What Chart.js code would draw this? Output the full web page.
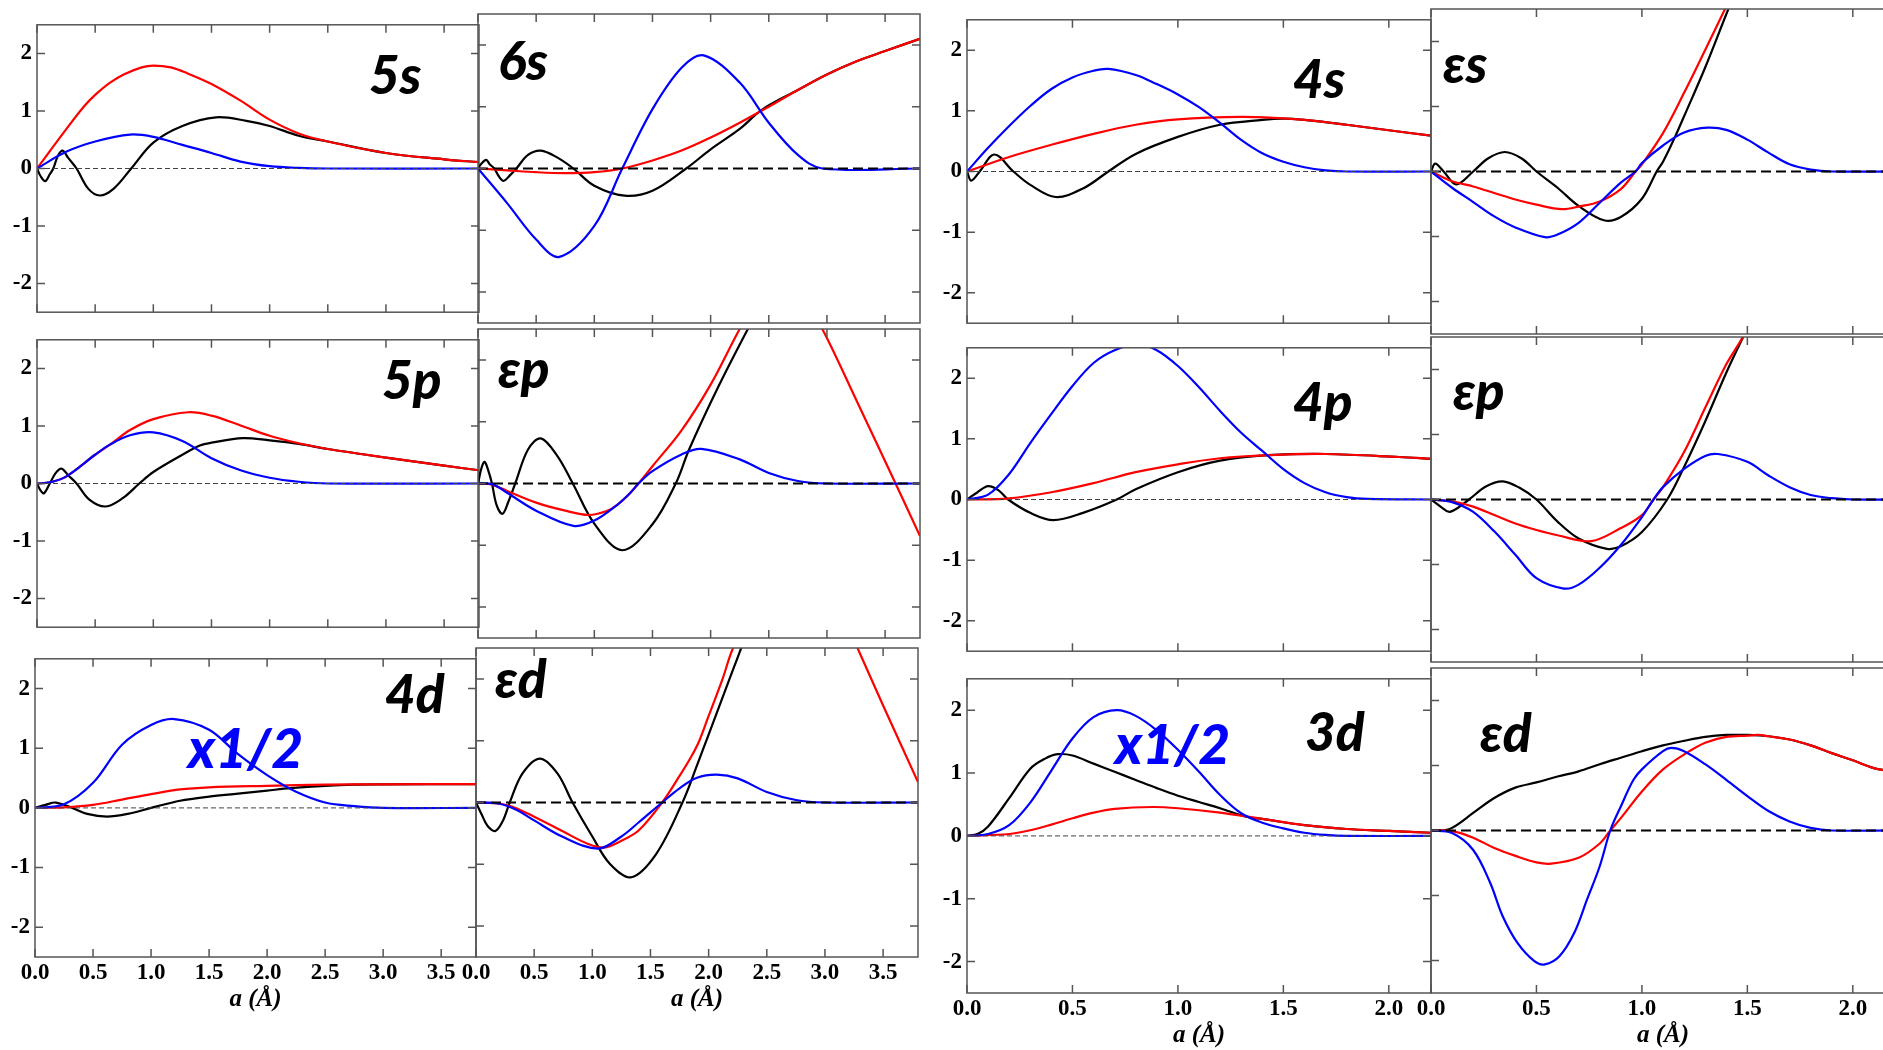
<!DOCTYPE html>
<html>
<head>
<meta charset="utf-8">
<script src="https://cdn.jsdelivr.net/npm/chart.js@4.4.1/dist/chart.umd.min.js"></script>
<style>
  html, body { margin: 0; padding: 0; background: #fff; overflow: hidden; width: 1883px; height: 1050px; }
  canvas { position: absolute; }
</style>
</head>
<body>
<script>
// ---- tick values ----
const yTickValues = [-2, -1, 0, 1, 2];
const xTickValuesWide = [0, 0.5, 1.0, 1.5, 2.0, 2.5, 3.0, 3.5];
const xTickValuesNarrow = [0, 0.5, 1.0, 1.5, 2.0];

// ---- 5s ----
const p5s_red_x = [0, 0.25, 0.4, 0.5, 0.625, 0.75, 0.9, 1.0, 1.15, 1.3, 1.5, 1.75, 2.0, 2.25, 2.5, 3.0, 3.5, 3.8];
const p5s_red_y = [0, 0.68, 1.07, 1.28, 1.49, 1.64, 1.76, 1.79, 1.76, 1.65, 1.47, 1.18, 0.85, 0.61, 0.47, 0.27, 0.16, 0.11];
const p5s_blue_x = [0, 0.25, 0.5, 0.8, 1.0, 1.25, 1.5, 1.75, 2.0, 2.25, 2.5, 3.8];
const p5s_blue_y = [0, 0.29, 0.47, 0.59, 0.55, 0.41, 0.27, 0.12, 0.04, 0.01, 0, 0];
const p5s_black_x = [0, 0.03, 0.07, 0.11, 0.14, 0.18, 0.22, 0.27, 0.34, 0.44, 0.54, 0.66, 0.81, 1.0, 1.25, 1.54, 1.8, 2.0, 2.25, 2.5, 3.0, 3.5, 3.8];
const p5s_black_y = [0, -0.13, -0.22, -0.1, 0, 0.22, 0.31, 0.18, 0, -0.35, -0.47, -0.35, 0, 0.45, 0.74, 0.89, 0.83, 0.74, 0.57, 0.47, 0.27, 0.16, 0.11];

// ---- 6s ----
const p6s_red_x = [0, 0.25, 0.5, 0.75, 1.0, 1.24, 1.5, 1.75, 2.0, 2.25, 2.5, 2.75, 3.0, 3.25, 3.5, 3.8];
const p6s_red_y = [0, -0.03, -0.06, -0.075, -0.06, 0, 0.13, 0.29, 0.5, 0.74, 1.0, 1.27, 1.52, 1.73, 1.9, 2.1];
const p6s_blue_x = [0, 0.25, 0.5, 0.7, 1.0, 1.24, 1.5, 1.75, 1.94, 2.25, 2.5, 2.75, 2.96, 3.8];
const p6s_blue_y = [0, -0.56, -1.15, -1.43, -0.93, 0, 0.96, 1.63, 1.83, 1.39, 0.74, 0.22, 0, 0];
const p6s_black_x = [0, 0.03, 0.07, 0.1, 0.14, 0.18, 0.22, 0.27, 0.33, 0.43, 0.54, 0.68, 0.82, 1.0, 1.26, 1.5, 1.79, 2.0, 2.25, 2.44, 2.75, 3.0, 3.25, 3.5, 3.8];
const p6s_black_y = [0, 0.08, 0.14, 0.07, 0, -0.13, -0.2, -0.12, 0, 0.22, 0.29, 0.18, 0, -0.28, -0.44, -0.36, 0, 0.31, 0.64, 0.95, 1.27, 1.52, 1.73, 1.9, 2.1];

// ---- 5p ----
const p5p_red_x = [0, 0.11, 0.25, 0.5, 0.63, 0.8, 1.0, 1.3, 1.5, 1.75, 2.0, 2.25, 2.5, 3.0, 3.5, 3.8];
const p5p_red_y = [0, 0.02, 0.12, 0.5, 0.68, 0.93, 1.12, 1.24, 1.18, 1.01, 0.83, 0.7, 0.6, 0.45, 0.31, 0.23];
const p5p_blue_x = [0, 0.11, 0.25, 0.5, 0.63, 0.8, 1.0, 1.25, 1.5, 1.75, 2.0, 2.25, 2.5, 3.8];
const p5p_blue_y = [0, 0.02, 0.12, 0.5, 0.68, 0.84, 0.89, 0.74, 0.44, 0.23, 0.1, 0.03, 0, 0];
const p5p_black_x = [0, 0.03, 0.06, 0.11, 0.16, 0.21, 0.27, 0.34, 0.45, 0.59, 0.74, 0.88, 1.0, 1.25, 1.4, 1.5, 1.77, 2.0, 2.25, 2.5, 3.0, 3.5, 3.8];
const p5p_black_y = [0, -0.12, -0.17, 0, 0.18, 0.26, 0.14, 0, -0.28, -0.4, -0.25, 0, 0.2, 0.5, 0.66, 0.71, 0.79, 0.75, 0.69, 0.6, 0.45, 0.31, 0.23];

// ---- εp (left group) ----
const pEp5_red_x = [0, 0.12, 0.25, 0.5, 0.75, 0.95, 1.1, 1.2, 1.3, 1.38, 1.5, 1.75, 2.0, 2.25, 2.4, 2.6, 2.8, 2.96, 3.25, 3.59, 3.8];
const pEp5_red_y = [0, -0.02, -0.12, -0.31, -0.44, -0.51, -0.45, -0.34, -0.17, 0, 0.28, 0.86, 1.6, 2.5, 2.96, 3.19, 2.98, 2.5, 1.36, 0, -0.85];
const pEp5_blue_x = [0, 0.12, 0.25, 0.5, 0.82, 1.0, 1.2, 1.3, 1.38, 1.5, 1.75, 1.92, 2.25, 2.5, 2.75, 3.0, 3.8];
const pEp5_blue_y = [0, -0.01, -0.15, -0.44, -0.685, -0.6, -0.34, -0.17, 0, 0.2, 0.47, 0.56, 0.39, 0.17, 0.04, 0, 0];
const pEp5_black_x = [0, 0.03, 0.057, 0.09, 0.12, 0.16, 0.21, 0.26, 0.32, 0.43, 0.54, 0.68, 0.815, 1.0, 1.24, 1.5, 1.7, 1.815, 2.07, 2.32, 2.45];
const pEp5_black_y = [0, 0.25, 0.35, 0.2, 0, -0.35, -0.49, -0.3, 0, 0.55, 0.73, 0.45, 0, -0.65, -1.08, -0.66, 0, 0.55, 1.58, 2.5, 2.95];

// ---- 4d ----
const p4d_red_x = [0, 0.25, 0.5, 0.75, 1.0, 1.25, 1.5, 2.0, 2.5, 3.0, 3.8];
const p4d_red_y = [0, 0.01, 0.05, 0.14, 0.23, 0.31, 0.345, 0.37, 0.39, 0.395, 0.4];
const p4d_blue_x = [0, 0.25, 0.5, 0.75, 1.0, 1.2, 1.5, 1.75, 2.0, 2.25, 2.5, 2.75, 3.0, 3.8];
const p4d_blue_y = [0, 0.06, 0.42, 1.06, 1.39, 1.49, 1.31, 0.9, 0.55, 0.27, 0.09, 0.03, 0, 0];
const p4d_black_x = [0, 0.09, 0.18, 0.32, 0.45, 0.62, 0.8, 1.0, 1.25, 1.5, 1.75, 2.0, 2.2, 2.5, 2.75, 3.0, 3.8];
const p4d_black_y = [0, 0.05, 0.09, 0, -0.1, -0.145, -0.1, 0, 0.12, 0.19, 0.24, 0.29, 0.33, 0.37, 0.39, 0.395, 0.4];

// ---- εd (left group) ----
const pEd4_red_x = [0, 0.15, 0.3, 0.5, 0.75, 0.95, 1.1, 1.25, 1.4, 1.6, 1.75, 1.85, 1.92, 2.0, 2.12, 2.21, 2.4, 2.6, 2.78, 2.95, 3.1, 3.28, 3.5, 3.8];
const pEd4_red_y = [0, -0.01, -0.06, -0.23, -0.47, -0.66, -0.73, -0.62, -0.45, 0, 0.43, 0.74, 1.0, 1.4, 2.0, 2.5, 3.2, 3.6, 3.73, 3.6, 3.25, 2.5, 1.57, 0.33];
const pEd4_blue_x = [0, 0.2, 0.35, 0.5, 0.75, 1.05, 1.25, 1.4, 1.6, 1.75, 1.9, 2.07, 2.25, 2.5, 2.75, 3.0, 3.8];
const pEd4_blue_y = [0, -0.02, -0.12, -0.29, -0.56, -0.745, -0.55, -0.32, 0, 0.23, 0.4, 0.45, 0.39, 0.17, 0.04, 0, 0];
const pEd4_black_x = [0, 0.05, 0.1, 0.166, 0.23, 0.29, 0.4, 0.55, 0.7, 0.83, 1.0, 1.15, 1.335, 1.55, 1.775, 1.9, 2.0, 2.1, 2.2, 2.3, 2.4];
const pEd4_black_y = [0, -0.2, -0.38, -0.46, -0.3, 0, 0.47, 0.71, 0.47, 0, -0.55, -0.99, -1.21, -0.83, 0, 0.6, 1.1, 1.6, 2.1, 2.6, 3.1];

// ---- 4s ----
const p4s_red_x = [0, 0.2, 0.4, 0.6, 0.8, 1.0, 1.3, 1.5, 1.6, 1.8, 2.0, 2.2];
const p4s_red_y = [0, 0.24, 0.44, 0.62, 0.77, 0.86, 0.9, 0.875, 0.85, 0.77, 0.68, 0.59];
const p4s_blue_x = [0, 0.1, 0.2, 0.3, 0.4, 0.5, 0.6, 0.67, 0.8, 0.9, 1.0, 1.1, 1.2, 1.3, 1.4, 1.5, 1.6, 1.7, 1.8, 2.2];
const p4s_blue_y = [0, 0.39, 0.75, 1.08, 1.36, 1.55, 1.66, 1.69, 1.59, 1.44, 1.27, 1.06, 0.8, 0.52, 0.3, 0.16, 0.07, 0.02, 0, 0];
const p4s_black_x = [0, 0.02, 0.06, 0.13, 0.22, 0.3, 0.42, 0.55, 0.67, 0.8, 1.0, 1.2, 1.4, 1.5, 1.6, 1.8, 2.0, 2.2];
const p4s_black_y = [0, -0.15, 0, 0.28, 0, -0.22, -0.42, -0.28, 0, 0.29, 0.57, 0.77, 0.85, 0.87, 0.85, 0.77, 0.68, 0.59];

// ---- εs ----
const pEs_red_x = [0, 0.1, 0.2, 0.3, 0.4, 0.5, 0.62, 0.7, 0.8, 0.9, 0.97, 1.0, 1.1, 1.2, 1.3, 1.4, 1.5];
const pEs_red_y = [0, -0.15, -0.23, -0.33, -0.43, -0.51, -0.58, -0.54, -0.46, -0.27, 0, 0.11, 0.59, 1.21, 1.87, 2.54, 3.2];
const pEs_blue_x = [0, 0.1, 0.2, 0.3, 0.4, 0.54, 0.6, 0.7, 0.8, 0.9, 0.97, 1.0, 1.1, 1.2, 1.31, 1.4, 1.5, 1.6, 1.7, 1.8, 1.9, 2.2];
const pEs_blue_y = [0, -0.25, -0.47, -0.69, -0.86, -1.01, -0.97, -0.79, -0.48, -0.17, 0, 0.13, 0.4, 0.6, 0.675, 0.64, 0.49, 0.29, 0.11, 0.03, 0, 0];
const pEs_black_x = [0, 0.02, 0.06, 0.12, 0.2, 0.27, 0.35, 0.43, 0.5, 0.6, 0.7, 0.82, 0.9, 1.0, 1.07, 1.1, 1.158, 1.2, 1.3, 1.41, 1.5];
const pEs_black_y = [0, 0.12, 0, -0.2, 0, 0.2, 0.3, 0.2, 0, -0.25, -0.53, -0.75, -0.7, -0.42, 0, 0.15, 0.54, 0.85, 1.6, 2.5, 3.2];

// ---- 4p ----
const p4p_red_x = [0, 0.2, 0.4, 0.6, 0.8, 1.0, 1.2, 1.43, 1.7, 2.05, 2.2];
const p4p_red_y = [0, 0.02, 0.12, 0.27, 0.45, 0.58, 0.68, 0.73, 0.75, 0.7, 0.67];
const p4p_blue_x = [0, 0.1, 0.2, 0.3, 0.4, 0.5, 0.6, 0.7, 0.81, 0.9, 1.0, 1.1, 1.2, 1.3, 1.4, 1.5, 1.6, 1.7, 1.8, 1.9, 2.2];
const p4p_blue_y = [0, 0.08, 0.42, 0.93, 1.41, 1.87, 2.25, 2.46, 2.56, 2.46, 2.2, 1.85, 1.46, 1.1, 0.8, 0.5, 0.27, 0.12, 0.04, 0.01, 0];
const p4p_black_x = [0, 0.05, 0.1, 0.15, 0.195, 0.3, 0.41, 0.55, 0.71, 0.8, 1.0, 1.2, 1.43, 1.7, 2.05, 2.2];
const p4p_black_y = [0, 0.12, 0.22, 0.15, 0, -0.22, -0.34, -0.22, 0, 0.17, 0.45, 0.64, 0.73, 0.75, 0.7, 0.67];

// ---- εp (right group) ----
const pEp4_red_x = [0, 0.1, 0.2, 0.3, 0.4, 0.5, 0.6, 0.76, 0.9, 1.0, 1.055, 1.1, 1.2, 1.3, 1.4, 1.48, 1.6];
const pEp4_red_y = [0, -0.03, -0.11, -0.24, -0.37, -0.47, -0.55, -0.64, -0.44, -0.24, 0, 0.19, 0.73, 1.41, 2.08, 2.51, 3.3];
const pEp4_blue_x = [0, 0.1, 0.2, 0.3, 0.4, 0.5, 0.63, 0.7, 0.8, 0.9, 1.0, 1.055, 1.1, 1.2, 1.3, 1.36, 1.5, 1.6, 1.7, 1.8, 1.9, 2.0, 2.2];
const pEp4_blue_y = [0, -0.04, -0.19, -0.49, -0.85, -1.21, -1.37, -1.31, -1.05, -0.7, -0.27, 0, 0.19, 0.47, 0.67, 0.7, 0.58, 0.37, 0.19, 0.07, 0.02, 0, 0];
const pEp4_black_x = [0, 0.05, 0.09, 0.18, 0.26, 0.34, 0.42, 0.5, 0.6, 0.7, 0.834, 0.9, 1.0, 1.12, 1.2, 1.3, 1.4, 1.48, 1.6];
const pEp4_black_y = [0, -0.12, -0.19, 0, 0.2, 0.28, 0.18, 0, -0.34, -0.6, -0.76, -0.72, -0.5, 0, 0.5, 1.2, 1.95, 2.5, 3.3];

// ---- 3d ----
const p3d_red_x = [0, 0.2, 0.3, 0.4, 0.5, 0.6, 0.7, 0.88, 1.0, 1.2, 1.4, 1.6, 1.8, 2.0, 2.2];
const p3d_red_y = [0, 0.03, 0.09, 0.18, 0.28, 0.37, 0.43, 0.46, 0.44, 0.37, 0.27, 0.17, 0.11, 0.08, 0.05];
const p3d_blue_x = [0, 0.1, 0.2, 0.3, 0.4, 0.5, 0.6, 0.71, 0.8, 0.9, 1.0, 1.1, 1.2, 1.3, 1.4, 1.5, 1.6, 1.7, 1.8, 2.2];
const p3d_blue_y = [0, 0.03, 0.17, 0.53, 1.04, 1.55, 1.89, 2.0, 1.91, 1.68, 1.37, 1.02, 0.65, 0.36, 0.21, 0.12, 0.05, 0.015, 0, 0];
const p3d_black_x = [0, 0.05, 0.1, 0.2, 0.3, 0.37, 0.43, 0.5, 0.6, 0.7, 0.8, 0.9, 1.0, 1.1, 1.2, 1.33, 1.4, 1.6, 1.8, 2.0, 2.2];
const p3d_black_y = [0, 0.03, 0.15, 0.6, 1.07, 1.23, 1.3, 1.28, 1.15, 1.02, 0.89, 0.76, 0.64, 0.54, 0.44, 0.3, 0.27, 0.17, 0.11, 0.08, 0.05];

// ---- εd (right group) ----
const pEd3_red_x = [0, 0.1, 0.2, 0.3, 0.4, 0.5, 0.57, 0.7, 0.8, 0.85, 0.9, 1.0, 1.1, 1.2, 1.3, 1.4, 1.5, 1.55, 1.6, 1.7, 1.8, 1.9, 2.0, 2.1, 2.2];
const pEd3_red_y = [0, -0.01, -0.11, -0.27, -0.39, -0.49, -0.51, -0.42, -0.2, 0, 0.19, 0.6, 0.94, 1.17, 1.35, 1.44, 1.46, 1.47, 1.45, 1.4, 1.31, 1.19, 1.08, 0.96, 0.9];
const pEd3_blue_x = [0, 0.1, 0.2, 0.28, 0.34, 0.41, 0.49, 0.54, 0.61, 0.68, 0.74, 0.8, 0.85, 0.9, 0.96, 1.0, 1.1, 1.14, 1.2, 1.3, 1.4, 1.5, 1.6, 1.7, 1.8, 1.9, 2.2];
const pEd3_blue_y = [0, -0.04, -0.3, -0.8, -1.32, -1.73, -2.01, -2.06, -1.93, -1.57, -1.06, -0.55, 0, 0.37, 0.78, 0.94, 1.22, 1.27, 1.22, 1.02, 0.78, 0.53, 0.3, 0.14, 0.04, 0, 0];
const pEd3_black_x = [0, 0.05, 0.1, 0.2, 0.3, 0.4, 0.5, 0.6, 0.7, 0.8, 0.9, 1.0, 1.1, 1.2, 1.3, 1.4, 1.5, 1.6, 1.7, 1.8, 1.9, 2.0, 2.1, 2.2];
const pEd3_black_y = [0, 0.0, 0.04, 0.27, 0.5, 0.66, 0.74, 0.83, 0.91, 1.02, 1.12, 1.22, 1.31, 1.38, 1.44, 1.47, 1.47, 1.45, 1.4, 1.31, 1.19, 1.08, 0.96, 0.9];

// layout of the twelve panels: plot box [left, top, width, height]
const LM = 60, RM = 8, TM = 8, BM_LAST = 72, BM = 8;
const panels = [
  { tag: '5s', box: [37, 14, 442, 309], xmax: 3.8, first: true,  last: false, cont: false, at: [332, 69], d: [p5s_red_x, p5s_red_y, p5s_blue_x, p5s_blue_y, p5s_black_x, p5s_black_y] },
  { tag: '6s', box: [478, 14, 442, 309], xmax: 3.8, first: false, last: false, cont: true, at: [20, 66], d: [p6s_red_x, p6s_red_y, p6s_blue_x, p6s_blue_y, p6s_black_x, p6s_black_y] },
  { tag: '5p', box: [37, 329, 442, 309], xmax: 3.8, first: true,  last: false, cont: false, at: [345, 59], d: [p5p_red_x, p5p_red_y, p5p_blue_x, p5p_blue_y, p5p_black_x, p5p_black_y] },
  { tag: 'εp', box: [478, 329, 442, 309], xmax: 3.8, first: false, last: false, cont: true, at: [20, 59], d: [pEp5_red_x, pEp5_red_y, pEp5_blue_x, pEp5_blue_y, pEp5_black_x, pEp5_black_y] },
  { tag: '4d', box: [35, 648, 441, 309], xmax: 3.8, first: true,  last: true, cont: false, at: [350, 54], half: [153, 109], d: [p4d_red_x, p4d_red_y, p4d_blue_x, p4d_blue_y, p4d_black_x, p4d_black_y] },
  { tag: 'εd', box: [476, 648, 442, 309], xmax: 3.8, first: false, last: true, cont: true, at: [19, 50], d: [pEd4_red_x, pEd4_red_y, pEd4_blue_x, pEd4_blue_y, pEd4_black_x, pEd4_black_y] },
  { tag: '4s', box: [967, 9, 464, 325], xmax: 2.2, first: true,  last: false, cont: false, at: [326, 78], d: [p4s_red_x, p4s_red_y, p4s_blue_x, p4s_blue_y, p4s_black_x, p4s_black_y] },
  { tag: 'εs', box: [1431, 9, 464, 325], xmax: 2.2, first: false, last: false, cont: true, at: [12, 74], d: [pEs_red_x, pEs_red_y, pEs_blue_x, pEs_blue_y, pEs_black_x, pEs_black_y] },
  { tag: '4p', box: [967, 337, 464, 325], xmax: 2.2, first: true,  last: false, cont: false, at: [326, 73], d: [p4p_red_x, p4p_red_y, p4p_blue_x, p4p_blue_y, p4p_black_x, p4p_black_y] },
  { tag: 'εp', box: [1431, 337, 464, 325], xmax: 2.2, first: false, last: false, cont: true, at: [22, 73], d: [pEp4_red_x, pEp4_red_y, pEp4_blue_x, pEp4_blue_y, pEp4_black_x, pEp4_black_y] },
  { tag: '3d', box: [967, 668, 464, 325], xmax: 2.2, first: true,  last: true, cont: false, at: [338, 72], half: [148, 85], d: [p3d_red_x, p3d_red_y, p3d_blue_x, p3d_blue_y, p3d_black_x, p3d_black_y] },
  { tag: 'εd', box: [1431, 668, 464, 325], xmax: 2.2, first: false, last: true, cont: true, at: [49, 84], d: [pEd3_red_x, pEd3_red_y, pEd3_blue_x, pEd3_blue_y, pEd3_black_x, pEd3_black_y] }
];

const pts = (xs, ys) => xs.map((x, i) => ({ x, y: ys[i] }));

// frame, inward ticks, dashed zero line and panel tags
const framePlugin = {
  id: 'frame',
  afterDatasetsDraw(chart, args, o) {
    const { ctx, chartArea: a, scales: { x, y } } = chart;
    ctx.save();
    const y0 = y.getPixelForValue(0);
    ctx.beginPath();
    ctx.setLineDash(o.cont ? [10, 5] : [5, 3]);
    ctx.strokeStyle = o.cont ? '#000' : '#444';
    ctx.lineWidth = o.cont ? 2 : 1;
    ctx.moveTo(a.left, y0);
    ctx.lineTo(a.right, y0);
    ctx.stroke();
    ctx.setLineDash([]);

    ctx.strokeStyle = '#555';
    ctx.lineWidth = 1.5;
    ctx.strokeRect(a.left, a.top, a.right - a.left, a.bottom - a.top);
    ctx.beginPath();
    x.ticks.forEach(t => {
      const p = x.getPixelForValue(t.value);
      ctx.moveTo(p, a.top); ctx.lineTo(p, a.top + 8);
      ctx.moveTo(p, a.bottom); ctx.lineTo(p, a.bottom - 8);
    });
    y.ticks.forEach(t => {
      const p = y.getPixelForValue(t.value);
      ctx.moveTo(a.left, p); ctx.lineTo(a.left + 8, p);
      ctx.moveTo(a.right, p); ctx.lineTo(a.right - 8, p);
    });
    ctx.stroke();

    ctx.textBaseline = 'alphabetic';
    ctx.textAlign = 'left';
    ctx.font = 'italic 900 53px Lato, "DejaVu Sans", sans-serif';
    ctx.fillStyle = '#000';
    ctx.fillText(o.tag, a.left + o.at[0], a.top + o.at[1]);
    if (o.half) {
      ctx.font = 'italic 900 55px Lato, "DejaVu Sans", sans-serif';
      ctx.fillStyle = '#0000ff';
      ctx.fillText('x1/2', a.left + o.half[0], a.top + o.half[1]);
    }
    ctx.restore();
  }
};

const tickFont = { family: '"Liberation Serif", "Times New Roman", serif', weight: 'bold', size: 23 };

panels.forEach(p => {
  const [bx, by, bw, bh] = p.box;
  const bm = p.last ? BM_LAST : BM;
  const cv = document.createElement('canvas');
  cv.width = LM + bw + RM;
  cv.height = TM + bh + bm;
  cv.style.left = (bx - LM) + 'px';
  cv.style.top = (by - TM) + 'px';
  document.body.appendChild(cv);

  const xTicks = p.xmax > 3 ? xTickValuesWide : xTickValuesNarrow;
  const [rx, ry, blx, bly, kx, ky] = p.d;
  new Chart(cv, {
    type: 'line',
    data: {
      datasets: [
        { label: 'blue', data: pts(blx, bly), borderColor: '#0000ff' },
        { label: 'red', data: pts(rx, ry), borderColor: '#ff0000' },
        { label: 'black', data: pts(kx, ky), borderColor: '#000000' }
      ]
    },
    options: {
      responsive: false,
      animation: false,
      devicePixelRatio: 1,
      layout: { padding: { top: TM, right: RM, left: 0, bottom: 0 } },
      elements: {
        line: { borderWidth: 2.2, tension: 0.35, capBezierPoints: false, fill: false },
        point: { radius: 0 }
      },
      plugins: {
        legend: { display: false },
        tooltip: { enabled: false },
        frame: { tag: p.tag, at: p.at, half: p.half, cont: p.cont }
      },
      scales: {
        x: {
          type: 'linear', min: 0, max: p.xmax,
          afterBuildTicks: s => { s.ticks = xTicks.map(v => ({ value: v })); },
          afterFit: s => { s.height = bm; },
          grid: { display: false, drawTicks: false },
          border: { display: false },
          ticks: { display: p.last, autoSkip: false, maxRotation: 0, padding: 2, color: '#000', font: tickFont, callback: v => v.toFixed(1) },
          title: { display: p.last, text: 'a (Å)', color: '#000', padding: { top: 0, bottom: 14 },
                   font: { family: '"Liberation Serif", "Times New Roman", serif', weight: 'bold', style: 'italic', size: 25 } }
        },
        y: {
          type: 'linear', min: -2.5, max: 2.5,
          afterBuildTicks: s => { s.ticks = yTickValues.map(v => ({ value: v })); },
          afterFit: s => { s.width = LM; },
          grid: { display: false, drawTicks: false },
          border: { display: false },
          ticks: { display: p.first, padding: 5, color: '#000', font: tickFont, callback: v => String(v) }
        }
      }
    },
    plugins: [framePlugin]
  });
});
</script>
</body>
</html>
